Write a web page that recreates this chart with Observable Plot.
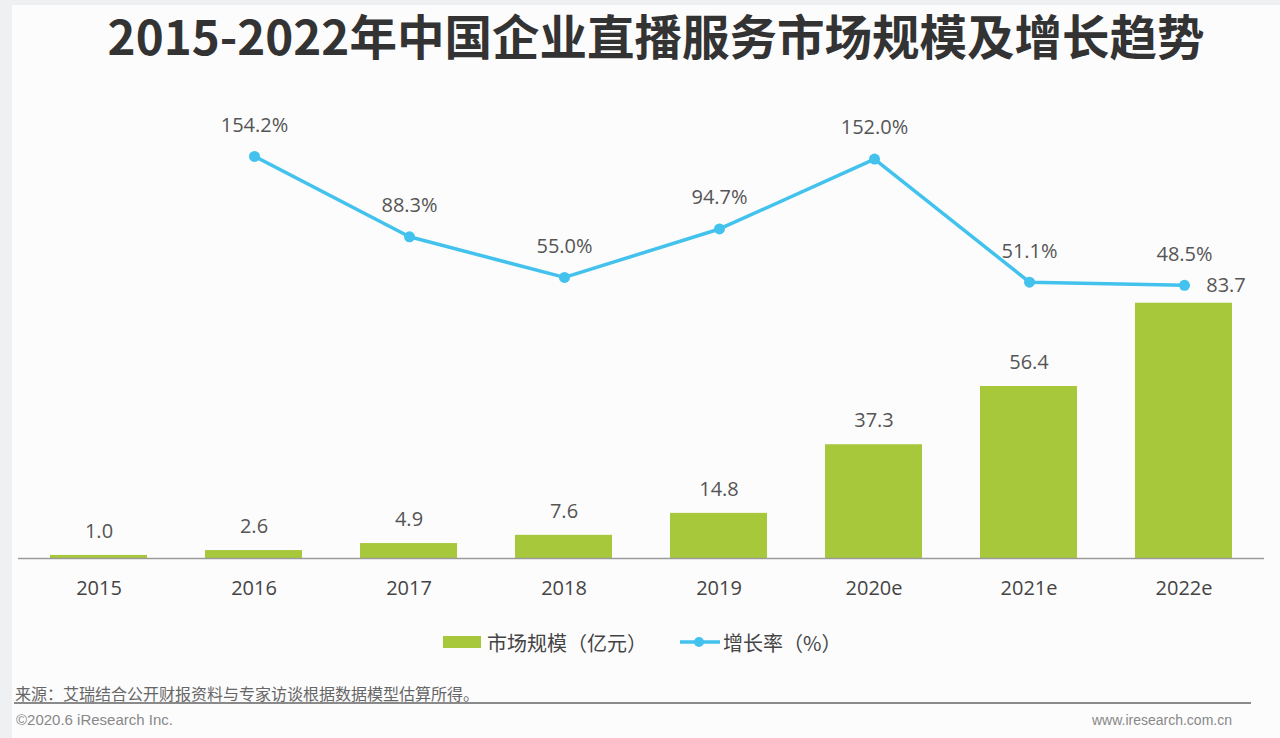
<!DOCTYPE html>
<html>
<head>
<meta charset="utf-8">
<script src="https://cdn.jsdelivr.net/npm/d3@7"></script>
<script src="https://cdn.jsdelivr.net/npm/@observablehq/plot@0.6"></script>
<style>
  html, body { margin: 0; padding: 0; }
  body { width: 1280px; height: 738px; background: #eef0f2; position: relative; overflow: hidden;
         font-family: "Open Sans", "Noto Sans CJK SC", sans-serif; }
  #panel { position: absolute; left: 12px; top: 5px; width: 1268px; height: 733px; background: #fcfcfd; }
  #title { position: absolute; left: 16px; top: 4px; width: 1280px; text-align: center; font-size: 47.5px; font-weight: 700;
           color: #333; font-family: "Noto Sans CJK SC", sans-serif; line-height: 62px; }
  .chart { position: absolute; left: 0; top: 80px; }
  #legend { position: absolute; top: 627px; left: 0; width: 1280px; height: 30px; font-size: 20px; color: #444;
            font-family: "Noto Sans CJK SC", sans-serif; }
  .lg { position: absolute; top: 0; display: flex; align-items: center; height: 30px; }
  #source { position: absolute; left: 15px; top: 681px; font-size: 16px; color: #666; font-family: "Noto Sans CJK SC", sans-serif; }
  #rule { position: absolute; left: 14px; top: 702px; width: 1237px; height: 2px; background: #8a8a8a; }
  #copy { position: absolute; left: 16px; top: 711px; font-size: 15px; color: #888; font-family: "Liberation Sans", sans-serif; }
  #site { position: absolute; right: 48px; top: 712px; font-size: 14px; color: #888; font-family: "Liberation Sans", sans-serif; }
</style>
</head>
<body>
<div id="panel"></div>
<div id="title"></div>
<div id="bars" class="chart"></div>
<div id="line" class="chart"></div>
<div id="legend"></div>
<div id="source"></div>
<div id="rule"></div>
<div id="copy"></div>
<div id="site"></div>
<script>
const title = "2015-2022年中国企业直播服务市场规模及增长趋势";
const years = ["2015", "2016", "2017", "2018", "2019", "2020e", "2021e", "2022e"];
const marketSize = [1.0, 2.6, 4.9, 7.6, 14.8, 37.3, 56.4, 83.7];
const rateYears = ["2016", "2017", "2018", "2019", "2020e", "2021e", "2022e"];
const growthRate = [154.2, 88.3, 55.0, 94.7, 152.0, 51.1, 48.5];
const seriesNames = ["市场规模（亿元）", "增长率（%）"];
const sourceText = "来源：艾瑞结合公开财报资料与专家访谈根据数据模型估算所得。";
const copyText = "©2020.6 iResearch Inc.";
const siteText = "www.iresearch.com.cn";

const green = "#a7c83a";
const blue = "#42c2ec";
const labelColor = "#555";

document.getElementById("title").textContent = title;
document.getElementById("source").textContent = sourceText;
document.getElementById("copy").textContent = copyText;
document.getElementById("site").textContent = siteText;

const bars = years.map((y, i) => ({year: y, value: marketSize[i], last: i === years.length - 1}));
const rates = rateYears.map((y, i) => ({year: y, value: growthRate[i]}));

const W = 1280, H = 560;
const xOpts = {domain: years, paddingInner: 0.376, paddingOuter: 0.188, align: 0.5};

const barPlot = Plot.plot({
  width: W, height: H,
  marginLeft: 18, marginRight: 16, marginTop: 173, marginBottom: 82,
  style: {background: "transparent", fontFamily: "'Open Sans', sans-serif", overflow: "visible"},
  x: {...xOpts, label: null},
  y: {domain: [0, 100], axis: null},
  marks: [
    Plot.barY(bars, {x: "year", y: "value", fill: green}),
    Plot.ruleY([0], {stroke: "#9a9a9a", strokeWidth: 1.5}),
    Plot.text(bars.filter(d => !d.last), {x: "year", y: "value", text: d => d.value.toFixed(1), dy: -24, fill: labelColor, fontSize: 20}),
    Plot.text(bars.filter(d => d.last), {x: "year", y: "value", text: d => d.value.toFixed(1), dy: -18, dx: 42, fill: labelColor, fontSize: 20}),
    Plot.axisX({tickSize: 0, tickPadding: 22, fontSize: 20, fill: "#444", label: null})
  ]
});
document.getElementById("bars").appendChild(barPlot);

const linePlot = Plot.plot({
  width: W, height: H,
  marginLeft: 18, marginRight: 16, marginTop: 20, marginBottom: 296,
  style: {background: "transparent", fontFamily: "'Open Sans', sans-serif", overflow: "visible"},
  x: {...xOpts, axis: null},
  y: {domain: [0, 200], axis: null},
  marks: [
    Plot.line(rates, {x: "year", y: "value", stroke: blue, strokeWidth: 3.5}),
    Plot.dot(rates, {x: "year", y: "value", fill: blue, r: 5.5}),
    Plot.text(rates, {x: "year", y: "value", text: d => d.value.toFixed(1) + "%", dy: -31, fill: labelColor, fontSize: 20})
  ]
});
document.getElementById("line").appendChild(linePlot);

// legend
const lg = document.getElementById("legend");
lg.innerHTML = `
  <div class="lg" style="left:443px"><span style="display:inline-block;width:38px;height:12px;background:${green};margin-right:6px"></span>${seriesNames[0]}</div>
  <div class="lg" style="left:680px"><svg width="40" height="14" style="margin-right:3px"><line x1="0" y1="7" x2="40" y2="7" stroke="${blue}" stroke-width="3.5"/><circle cx="19" cy="7" r="5" fill="${blue}"/></svg>${seriesNames[1]}</div>`;
</script>
</body>
</html>
